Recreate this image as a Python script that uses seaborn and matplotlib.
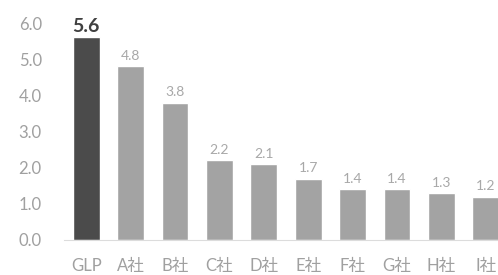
import pandas as pd
import matplotlib.pyplot as plt
import seaborn as sns

companies = ["GLP", "A社", "B社", "C社", "D社", "E社", "F社", "G社", "H社", "I社"]
values = [5.6, 4.8, 3.8, 2.2, 2.1, 1.7, 1.4, 1.4, 1.3, 1.2]
bar_colors = ["#4b4b4b"] + ["#a3a3a3"] * 9

sns.set_style("white")
plt.rcParams["font.family"] = ["Lato", "Noto Sans CJK JP", "DejaVu Sans"]

df = pd.DataFrame({"company": companies, "value": values})

fig = plt.figure(figsize=(4.98, 2.75), dpi=100)
# axes deliberately runs past the right edge, like the cropped original
ax = fig.add_axes([64 / 498, 1 - 240 / 275, 444 / 498, 217 / 275])

sns.barplot(data=df, x="company", y="value", hue="company",
            palette=bar_colors, width=0.6, legend=False, ax=ax, saturation=1)

ax.set_ylim(0, 6.0)
ax.set_xlim(-0.5, len(companies) - 0.5)
ax.set_yticks([0, 1, 2, 3, 4, 5, 6])
ax.set_yticklabels([f"{v:.1f}" for v in [0, 1, 2, 3, 4, 5, 6]])
ax.set_xlabel("")
ax.set_ylabel("")

for s in ["top", "right", "left"]:
    ax.spines[s].set_visible(False)
ax.spines["bottom"].set_color("#dcdcdc")
ax.tick_params(axis="both", length=0, colors="#a0a0a0", labelsize=12)
ax.tick_params(axis="x", pad=13)
ax.tick_params(axis="y", pad=16)

for i, v in enumerate(values):
    if i == 0:
        ax.text(i, v + 0.08, f"{v:.1f}", ha="center", va="bottom",
                fontsize=14, fontweight="bold", color="#404040")
    else:
        ax.text(i, v + 0.12, f"{v:.1f}", ha="center", va="bottom",
                fontsize=10, color="#a8a8a8")

fig.savefig("out.png", dpi=100)
